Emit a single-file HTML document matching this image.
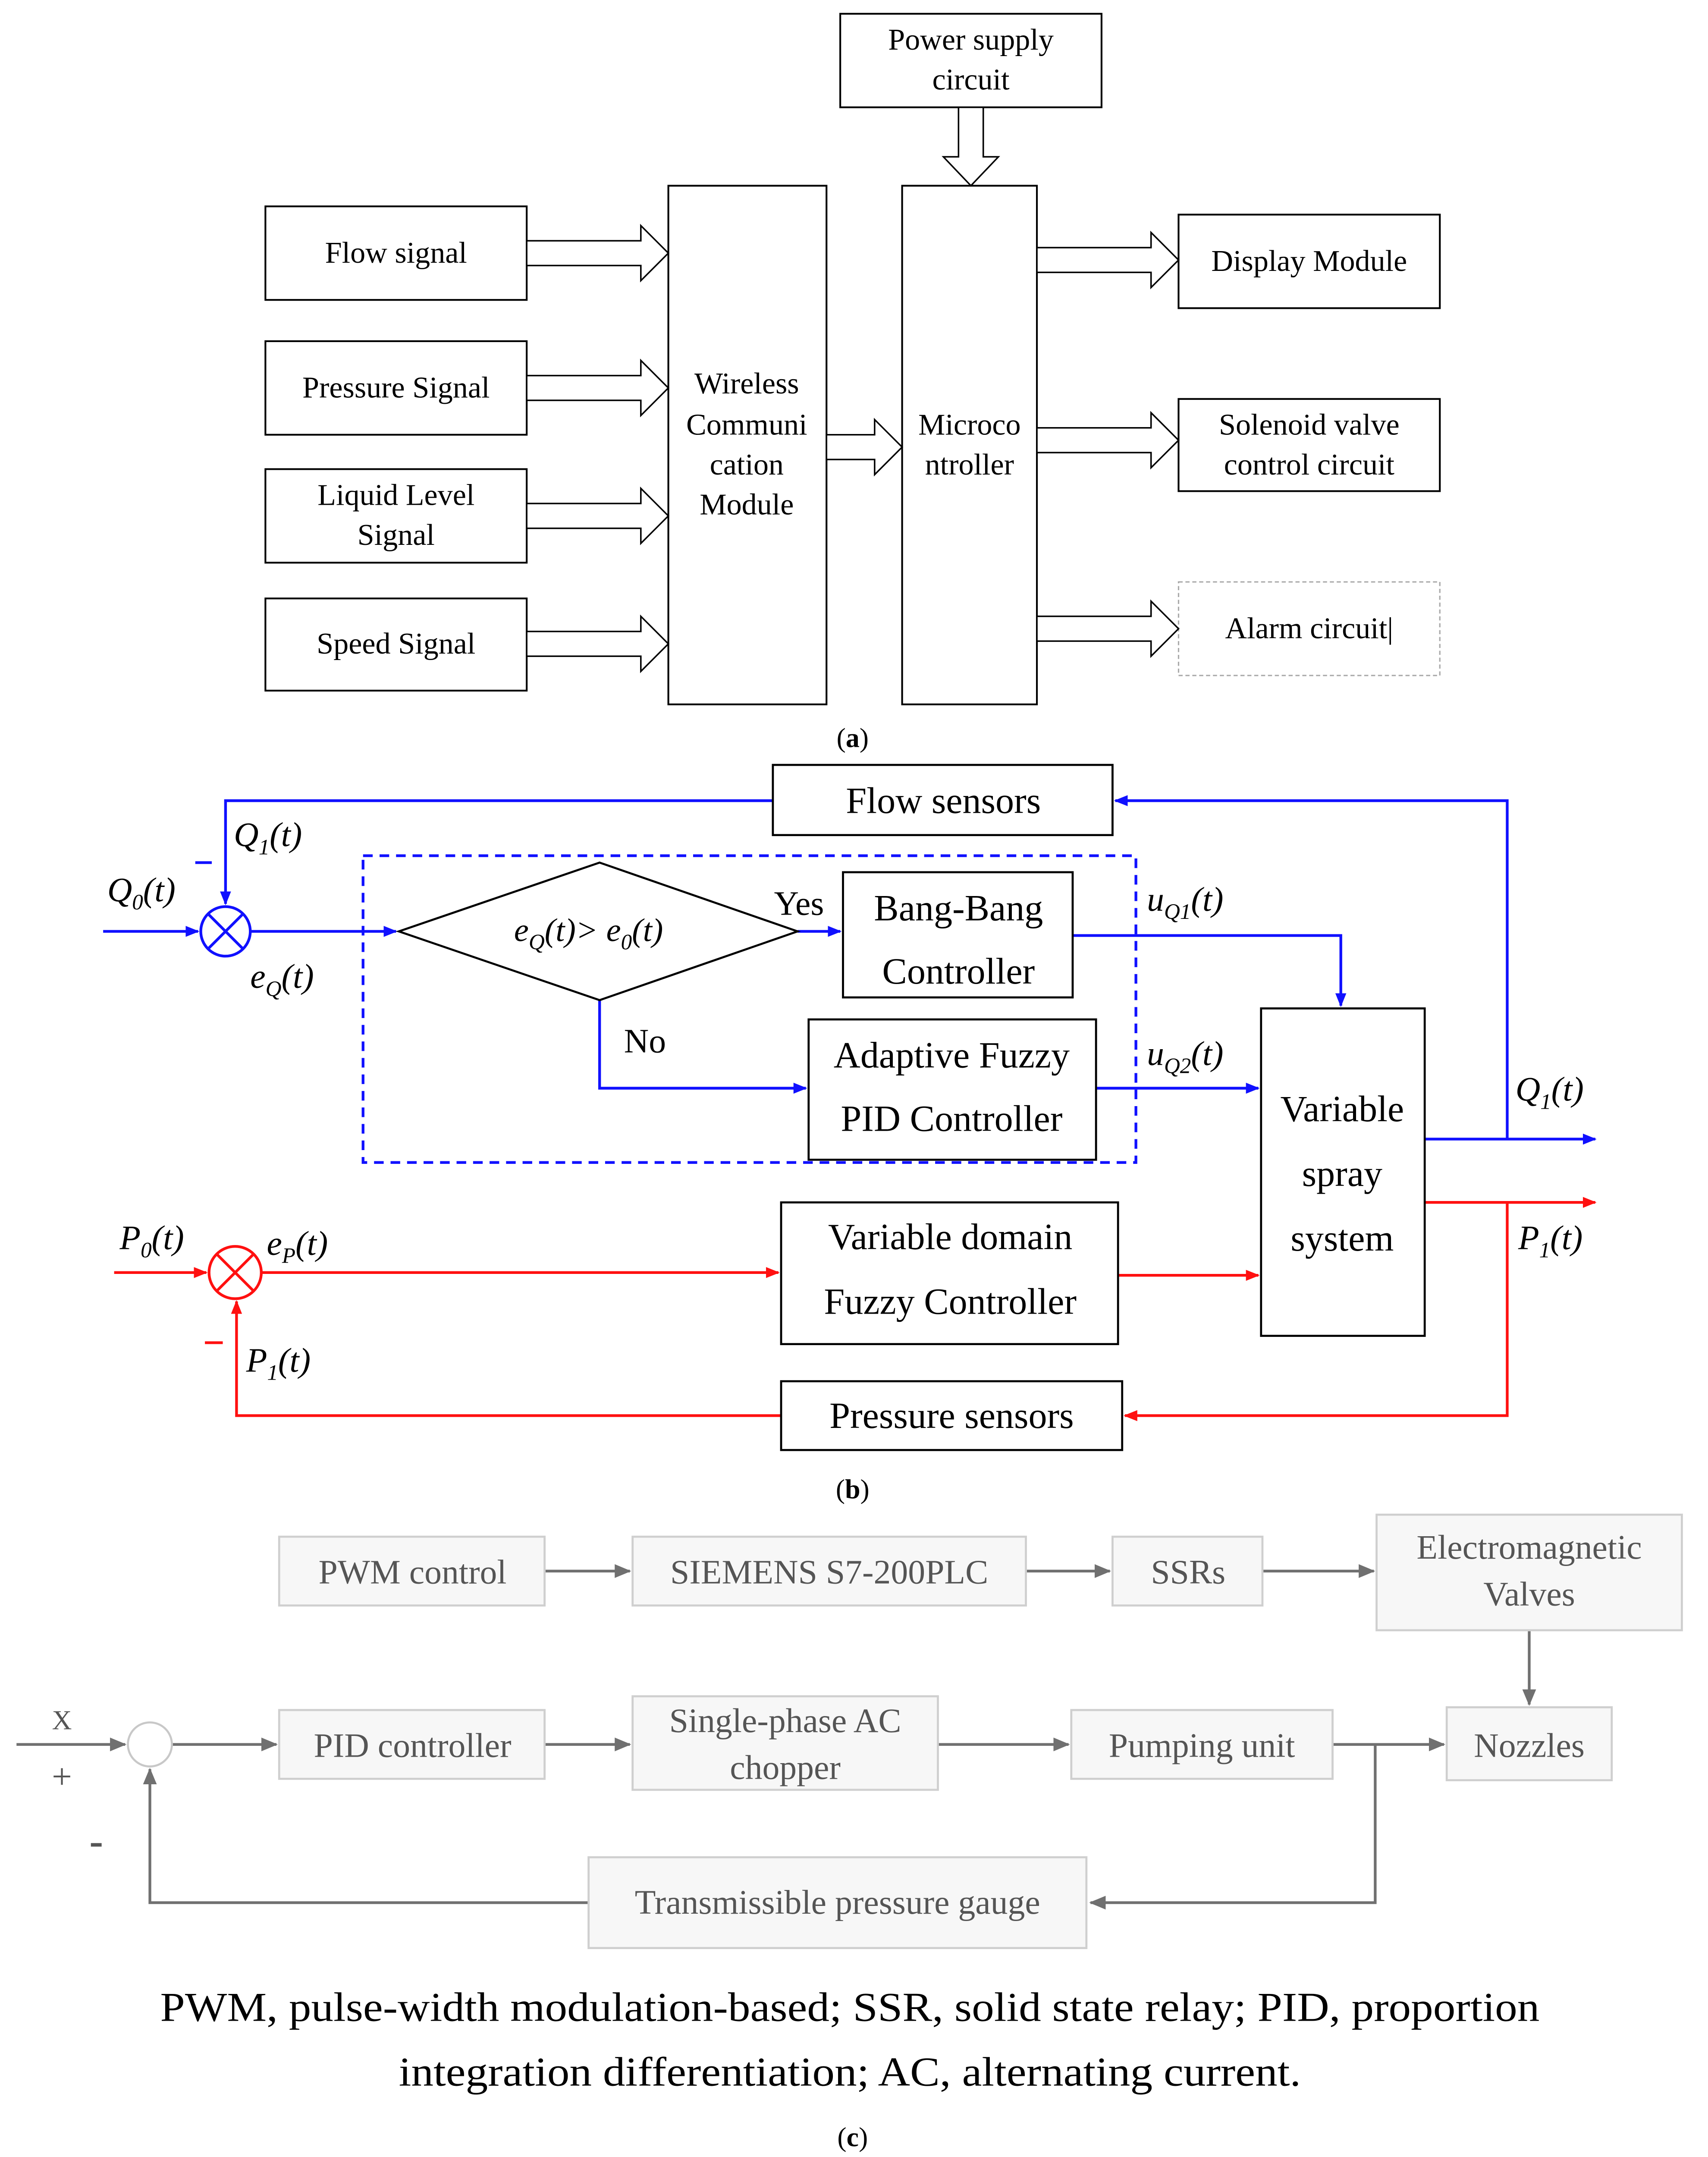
<!DOCTYPE html>
<html><head><meta charset="utf-8"><style>
html,body{margin:0;padding:0;background:#fff;width:3960px;height:5045px;overflow:hidden;}
svg{display:block;position:absolute;left:0;top:0;font-family:"Liberation Serif","Times New Roman","DejaVu Serif",serif;}
svg text{font-family:"Liberation Serif","Times New Roman","DejaVu Serif",serif;}
</style></head><body>
<svg width="3960" height="5045" viewBox="0 0 1242 1582" preserveAspectRatio="none" xmlns="http://www.w3.org/2000/svg" font-family="Liberation Serif, Times New Roman, DejaVu Serif, serif">
<defs>
<marker id="ab" markerWidth="10" markerHeight="10" refX="9" refY="5" orient="auto" markerUnits="userSpaceOnUse"><path d="M0,1 L10,5 L0,9 Z" fill="#1010ff"/></marker>
<marker id="ar" markerWidth="10" markerHeight="10" refX="9" refY="5" orient="auto" markerUnits="userSpaceOnUse"><path d="M0,1 L10,5 L0,9 Z" fill="#ff1010"/></marker>
<marker id="ag" markerWidth="12" markerHeight="12" refX="11" refY="6" orient="auto" markerUnits="userSpaceOnUse"><path d="M0,1 L12,6 L0,11 Z" fill="#707070"/></marker>
</defs>
<rect width="1242" height="1582" fill="#fff"/>

<!-- (a) -->
<g fill="#fff" stroke="#000" stroke-width="1.3">
<rect x="611" y="10" width="190" height="68"/>
<rect x="193" y="150" width="190" height="68"/>
<rect x="193" y="248" width="190" height="68"/>
<rect x="193" y="341" width="190" height="68"/>
<rect x="193" y="435" width="190" height="67"/>
<rect x="486" y="135" width="115" height="377"/>
<rect x="656" y="135" width="98" height="377"/>
<rect x="857" y="156" width="190" height="68"/>
<rect x="857" y="290" width="190" height="67"/>
</g>
<rect x="857" y="423" width="190" height="68" fill="#fff" stroke="#aaa" stroke-width="1" stroke-dasharray="3,2"/>
<g fill="#fff" stroke="#000" stroke-width="1.1">
<path d="M383,175 L466,175 L466,164 L486,184 L466,204 L466,193 L383,193 Z"/>
<path d="M383,273 L466,273 L466,262 L486,282 L466,302 L466,291 L383,291 Z"/>
<path d="M383,366 L466,366 L466,355 L486,375 L466,395 L466,384 L383,384 Z"/>
<path d="M383,459 L466,459 L466,448 L486,468 L466,488 L466,477 L383,477 Z"/>
<path d="M601,316 L636,316 L636,305 L656,325 L636,345 L636,334 L601,334 Z"/>
<path d="M754,180 L837,180 L837,169 L857,189 L837,209 L837,198 L754,198 Z"/>
<path d="M754,311 L837,311 L837,300 L857,320 L837,340 L837,329 L754,329 Z"/>
<path d="M754,448 L837,448 L837,437 L857,457 L837,477 L837,466 L754,466 Z"/>
<path d="M697,78 L715,78 L715,114 L726,114 L706,135 L686,114 L697,114 Z"/>
</g>
<g font-size="22" text-anchor="middle" fill="#000">
<text x="706" y="36">Power supply</text><text x="706" y="65">circuit</text>
<text x="288" y="191">Flow signal</text>
<text x="288" y="289">Pressure Signal</text>
<text x="288" y="367">Liquid Level</text><text x="288" y="396">Signal</text>
<text x="288" y="475">Speed Signal</text>
<text x="543" y="286">Wireless</text><text x="543" y="316">Communi</text><text x="543" y="345">cation</text><text x="543" y="374">Module</text>
<text x="705" y="316">Microco</text><text x="705" y="345">ntroller</text>
<text x="952" y="197">Display Module</text>
<text x="952" y="316">Solenoid valve</text><text x="952" y="345">control circuit</text>
<text x="952" y="464">Alarm circuit|</text>
<text x="620" y="543" font-size="20">(<tspan font-weight="bold">a</tspan>)</text>
</g>

<!-- (b) -->
<g fill="none" stroke="#1010ff" stroke-width="2">
<rect x="264" y="622" width="562" height="223" stroke-dasharray="7,5"/>
<polyline points="562,582 164,582 164,657" marker-end="url(#ab)"/>
<line x1="75" y1="677" x2="144" y2="677" marker-end="url(#ab)"/>
<line x1="182" y1="677" x2="288" y2="677" marker-end="url(#ab)"/>
<line x1="580" y1="677" x2="611" y2="677" marker-end="url(#ab)"/>
<polyline points="436,727 436,791 586,791" marker-end="url(#ab)"/>
<polyline points="780,680 975,680 975,731" marker-end="url(#ab)"/>
<line x1="797" y1="791" x2="915" y2="791" marker-end="url(#ab)"/>
<line x1="1036" y1="828" x2="1160" y2="828" marker-end="url(#ab)"/>
<polyline points="1096,828 1096,582 811,582" marker-end="url(#ab)"/>
<circle cx="164" cy="677" r="18"/>
<path d="M151,664 L177,690 M177,664 L151,690"/>
</g>
<g fill="none" stroke="#ff1010" stroke-width="2">
<line x1="83" y1="925" x2="150" y2="925" marker-end="url(#ar)"/>
<line x1="190" y1="925" x2="566" y2="925" marker-end="url(#ar)"/>
<line x1="813" y1="927" x2="915" y2="927" marker-end="url(#ar)"/>
<line x1="1036" y1="874" x2="1160" y2="874" marker-end="url(#ar)"/>
<polyline points="1096,874 1096,1029 818,1029" marker-end="url(#ar)"/>
<polyline points="568,1029 172,1029 172,946" marker-end="url(#ar)"/>
<circle cx="171" cy="925" r="19"/>
<path d="M157,911 L185,939 M185,911 L157,939"/>
</g>
<g fill="#fff" stroke="#000" stroke-width="1.5">
<rect x="562" y="556" width="247" height="51"/>
<polygon points="290,677 436,627 580,677 436,727"/>
<rect x="613" y="634" width="167" height="91"/>
<rect x="588" y="741" width="209" height="102"/>
<rect x="917" y="733" width="119" height="238"/>
<rect x="568" y="874" width="245" height="103"/>
<rect x="568" y="1004" width="248" height="50"/>
</g>
<g font-size="27" text-anchor="middle" fill="#000">
<text x="686" y="591">Flow sensors</text>
<text x="697" y="669">Bang-Bang</text><text x="697" y="715">Controller</text>
<text x="692" y="776">Adaptive Fuzzy</text><text x="692" y="822">PID Controller</text>
<text x="976" y="815">Variable</text><text x="976" y="862">spray</text><text x="976" y="909">system</text>
<text x="691" y="908">Variable domain</text><text x="691" y="955">Fuzzy Controller</text>
<text x="692" y="1038">Pressure sensors</text>
<text x="581" y="665" font-size="25">Yes</text>
<text x="469" y="765" font-size="25">No</text>
<text x="428" y="684" font-size="24" font-style="italic">e<tspan font-size="16" dy="6">Q</tspan><tspan dy="-6">(t)&gt; e</tspan><tspan font-size="16" dy="6">0</tspan><tspan dy="-6">(t)</tspan></text>
</g>
<g font-size="25" font-style="italic" fill="#000">
<text x="170" y="615">Q<tspan font-size="16" dy="6">1</tspan><tspan dy="-6">(t)</tspan></text>
<text x="78" y="655">Q<tspan font-size="16" dy="6">0</tspan><tspan dy="-6">(t)</tspan></text>
<text x="182" y="718">e<tspan font-size="16" dy="6">Q</tspan><tspan dy="-6">(t)</tspan></text>
<text x="834" y="662">u<tspan font-size="16" dy="6">Q1</tspan><tspan dy="-6">(t)</tspan></text>
<text x="834" y="774">u<tspan font-size="16" dy="6">Q2</tspan><tspan dy="-6">(t)</tspan></text>
<text x="1102" y="800">Q<tspan font-size="16" dy="6">1</tspan><tspan dy="-6">(t)</tspan></text>
<text x="1104" y="908">P<tspan font-size="16" dy="6">1</tspan><tspan dy="-6">(t)</tspan></text>
<text x="87" y="908">P<tspan font-size="16" dy="6">0</tspan><tspan dy="-6">(t)</tspan></text>
<text x="194" y="912">e<tspan font-size="16" dy="6">P</tspan><tspan dy="-6">(t)</tspan></text>
<text x="179" y="997">P<tspan font-size="16" dy="6">1</tspan><tspan dy="-6">(t)</tspan></text>
</g>
<line x1="142" y1="627" x2="154" y2="627" stroke="#1010ff" stroke-width="2"/>
<line x1="149" y1="976" x2="162" y2="976" stroke="#ff1010" stroke-width="2"/>
<text x="620" y="1089" font-size="20" text-anchor="middle">(<tspan font-weight="bold">b</tspan>)</text>

<!-- (c) -->
<g fill="none" stroke="#707070" stroke-width="2">
<line x1="396" y1="1142" x2="458" y2="1142" marker-end="url(#ag)"/>
<line x1="746" y1="1142" x2="807" y2="1142" marker-end="url(#ag)"/>
<line x1="918" y1="1142" x2="999" y2="1142" marker-end="url(#ag)"/>
<line x1="1112" y1="1185" x2="1112" y2="1239" marker-end="url(#ag)"/>
<line x1="12" y1="1268" x2="91" y2="1268" marker-end="url(#ag)"/>
<line x1="125" y1="1268" x2="201" y2="1268" marker-end="url(#ag)"/>
<line x1="396" y1="1268" x2="458" y2="1268" marker-end="url(#ag)"/>
<line x1="682" y1="1268" x2="777" y2="1268" marker-end="url(#ag)"/>
<line x1="969" y1="1268" x2="1050" y2="1268" marker-end="url(#ag)"/>
<polyline points="1000,1268 1000,1383 793,1383" marker-end="url(#ag)"/>
<polyline points="428,1383 109,1383 109,1286" marker-end="url(#ag)"/>
</g>
<circle cx="109" cy="1268" r="16" fill="#fff" stroke="#c8c8c8" stroke-width="1.5"/>
<g fill="#f7f7f7" stroke="#cfcfcf" stroke-width="1.5">
<rect x="203" y="1117" width="193" height="50"/>
<rect x="460" y="1117" width="286" height="50"/>
<rect x="809" y="1117" width="109" height="50"/>
<rect x="1001" y="1101" width="222" height="84"/>
<rect x="1052" y="1241" width="120" height="53"/>
<rect x="203" y="1243" width="193" height="50"/>
<rect x="460" y="1233" width="222" height="68"/>
<rect x="779" y="1243" width="190" height="50"/>
<rect x="428" y="1350" width="362" height="66"/>
</g>
<g font-size="25" text-anchor="middle" fill="#555">
<text x="300" y="1151">PWM control</text>
<text x="603" y="1151">SIEMENS S7-200PLC</text>
<text x="864" y="1151">SSRs</text>
<text x="1112" y="1133">Electromagnetic</text><text x="1112" y="1167">Valves</text>
<text x="1112" y="1277">Nozzles</text>
<text x="300" y="1277">PID controller</text>
<text x="571" y="1259">Single-phase AC</text><text x="571" y="1293">chopper</text>
<text x="874" y="1277">Pumping unit</text>
<text x="609" y="1391">Transmissible pressure gauge</text>
<text x="45" y="1257" font-size="20">X</text>
<text x="45" y="1300" font-size="26">+</text>
<text x="70" y="1348" font-size="30" font-weight="bold">-</text>
</g>
<g font-size="30" text-anchor="middle" fill="#000">
<text x="618" y="1469" textLength="1003" lengthAdjust="spacingAndGlyphs">PWM, pulse-width modulation-based; SSR, solid state relay; PID, proportion</text>
<text x="618" y="1516" textLength="656" lengthAdjust="spacingAndGlyphs">integration differentiation; AC, alternating current.</text>
<text x="620" y="1560" font-size="20">(<tspan font-weight="bold">c</tspan>)</text>
</g>
</svg>
</body></html>
